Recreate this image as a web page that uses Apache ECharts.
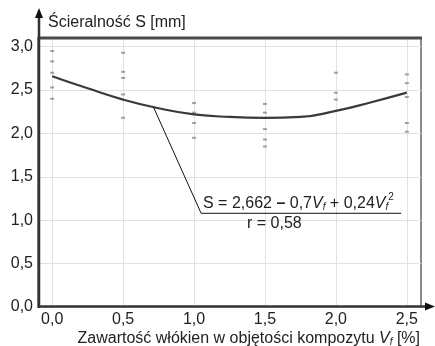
<!DOCTYPE html>
<html><head><meta charset="utf-8">
<script src="https://cdn.jsdelivr.net/npm/echarts@6/dist/echarts.min.js"></script>
<style>html,body{margin:0;padding:0;background:#fff}#c{width:435px;height:346px}</style>
</head><body><div id="c"></div>
<script>
// Tick values
const xTicks = [0, 0.5, 1.0, 1.5, 2.0, 2.5];
const yTicks = [0, 0.5, 1.0, 1.5, 2.0, 2.5, 3.0];
// Measured points (Vf, S)
const vf00 = [2.95, 2.83, 2.70, 2.53, 2.40];
const vf05 = [2.93, 2.71, 2.64, 2.45, 2.18];
const vf10 = [2.35, 2.24, 2.12, 1.95];
const vf15 = [2.34, 2.24, 2.05, 1.93, 1.85];
const vf20 = [2.70, 2.47, 2.39];
const vf25 = [2.68, 2.58, 2.42, 2.12, 2.02];
// Fitted curve
const curveX = [0, 0.25, 0.5, 0.75, 1.0, 1.25, 1.5, 1.75, 2.0, 2.25, 2.5];
const curveY = [2.66, 2.52, 2.39, 2.29, 2.22, 2.19, 2.18, 2.19, 2.26, 2.36, 2.47];
// Annotation leader line
const leaderX = [0.715, 1.05, 2.46];
const leaderY = [2.30, 1.08, 1.08];

const groups = [[0, vf00], [0.5, vf05], [1.0, vf10], [1.5, vf15], [2.0, vf20], [2.5, vf25]];
const scatterData = [];
groups.forEach(([x, ys]) => ys.forEach(y => scatterData.push([x, y])));
const curveData = curveX.map((x, i) => [x, curveY[i]]);
const leaderData = leaderX.map((x, i) => [x, leaderY[i]]);

const fmt = v => v.toFixed(1).replace('.', ',');
const FONT = 'Liberation Sans, Arial, sans-serif';
const FS = 16;
const richBase = {
  n: {fontSize: FS, fontFamily: FONT, fill: '#222', lineHeight: 20, verticalAlign: 'bottom'},
  b: {fontSize: FS, fontFamily: FONT, fontWeight: 'bold', fill: '#222', lineHeight: 20, verticalAlign: 'bottom'},
  i: {fontSize: FS, fontFamily: FONT, fontStyle: 'italic', fill: '#222', lineHeight: 20, verticalAlign: 'bottom'},
  s: {fontSize: 10, fontFamily: FONT, fontStyle: 'italic', fill: '#222', lineHeight: 13, verticalAlign: 'bottom'},
  p: {fontSize: 10, fontFamily: FONT, fill: '#222', lineHeight: 11, verticalAlign: 'top'}
};

const chart = echarts.init(document.getElementById('c'), null, {renderer: 'canvas'});
chart.setOption({
  animation: false,
  grid: {left: 38, top: 38, right: 14, bottom: 39, show: true, borderColor: '#8c8c8c', borderWidth: 2},
  xAxis: {
    type: 'value', min: -0.1, max: 2.6,
    axisLine: {show: false},
    axisTick: {show: false, customValues: xTicks},
    axisLabel: {customValues: xTicks, formatter: fmt, color: '#222', fontSize: FS, fontFamily: FONT, margin: 5},
    splitLine: {show: true, lineStyle: {color: '#e2e2e2', width: 1}}
  },
  yAxis: {
    type: 'value', min: 0, max: 3.1,
    axisLine: {show: false},
    axisTick: {show: false, customValues: yTicks},
    axisLabel: {customValues: yTicks, formatter: fmt, color: '#222', fontSize: FS, fontFamily: FONT, margin: 5},
    splitLine: {show: true, lineStyle: {color: '#e2e2e2', width: 1}}
  },
  series: [
    {type: 'scatter', data: scatterData, symbol: 'rect', symbolSize: [4, 2],
     itemStyle: {color: '#8a8a8a'}, z: 3},
    {type: 'line', data: curveData, smooth: true, symbol: 'none',
     lineStyle: {color: '#3a3a3a', width: 2.2}, z: 4},
    {type: 'line', data: leaderData, symbol: 'none',
     lineStyle: {color: '#111', width: 1}, z: 5}
  ],
  graphic: [
    {type: 'line', shape: {x1: 38, y1: 38, x2: 422, y2: 38}, style: {stroke: '#4a4a4a', lineWidth: 3}, z: 10},
    {type: 'line', shape: {x1: 39, y1: 308, x2: 39, y2: 14}, style: {stroke: '#333', lineWidth: 2.5}, z: 10},
    {type: 'polygon', shape: {points: [[39, 8], [35, 18], [43, 18]]}, style: {fill: '#111'}, z: 10},
    {type: 'line', shape: {x1: 38, y1: 306.5, x2: 428, y2: 306.5}, style: {stroke: '#333', lineWidth: 2.5}, z: 10},
    {type: 'polygon', shape: {points: [[435, 306.5], [425, 302.5], [425, 310.5]]}, style: {fill: '#111'}, z: 10},
    {type: 'text', left: 48, top: 15, style: {text: 'Ścieralność S [mm]', font: FS + 'px ' + FONT, fill: '#222'}, z: 10},
    {type: 'text', right: 15, top: 331, z: 10, style: {
      text: '{n|Zawartość włókien w objętości kompozytu }{i|V}{s|f}{n| [%]}',
      font: FS + 'px ' + FONT, fill: '#222', rich: richBase}},
    {type: 'text', left: 203, top: 192, z: 10, style: {
      text: '{n|S = 2,662 }{b|–}{n| 0,7}{i|V}{s|f}{n| + 0,24}{i|V}{s|f}{p|2}',
      font: FS + 'px ' + FONT, fill: '#222', rich: richBase}},
    {type: 'text', left: 247, top: 216, z: 10, style: {text: 'r = 0,58', font: FS + 'px ' + FONT, fill: '#222'}}
  ]
});
</script>
</body></html>
